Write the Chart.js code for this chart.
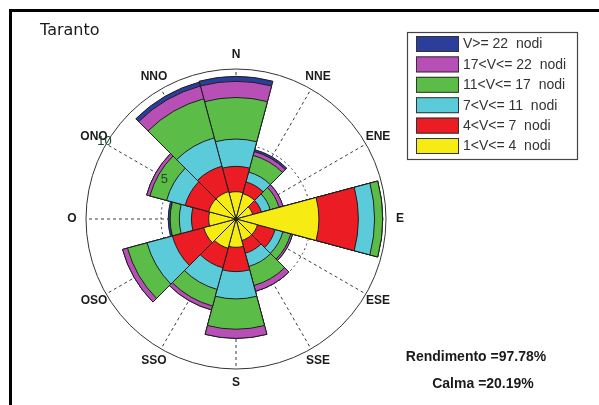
<!DOCTYPE html>
<html>
<head>
<meta charset="utf-8">
<script src="https://cdn.jsdelivr.net/npm/chart.js@4.4.1/dist/chart.umd.min.js"></script>
<style>
  html, body { margin: 0; padding: 0; background: #fff; }
  #wrap { width: 599px; height: 405px; position: relative; }
</style>
</head>
<body>
<div id="wrap"><canvas id="rose"></canvas></div>
<script>
// Wind directions (clockwise from north) and speed classes
const directions = ['N', 'NNE', 'ENE', 'E', 'ESE', 'SSE', 'S', 'SSO', 'OSO', 'O', 'ONO', 'NNO'];
const speedClasses = ['1<V<= 4  nodi', '4<V<= 7  nodi', '7<V<= 11  nodi', '11<V<= 17  nodi', '17<V<= 22  nodi', 'V>= 22  nodi'];
const classColors = ['#f6ec14', '#ec1c24', '#5ccbd9', '#5cbc48', '#b84fb6', '#2c3e9c'];

// Frequency (%) of each speed class per direction
const v1to4   = [1.82, 1.75, 1.15, 5.53, 1.48, 1.48, 1.89, 2.02, 2.23, 1.82, 1.89, 1.89];
const v4to7   = [1.69, 0.81, 0.60, 2.63, 1.22, 0.88, 1.62, 1.35, 2.16, 1.15, 1.62, 1.75];
const v7to11  = [1.82, 0.68, 0.61, 1.08, 0.54, 0.91, 1.82, 1.49, 1.75, 0.81, 1.28, 1.96];
const v11to17 = [2.77, 1.15, 0.61, 0.54, 0.54, 1.32, 2.02, 1.15, 1.35, 0.61, 1.15, 2.70];
const v17to22 = [1.08, 0.27, 0.27, 0.00, 0.13, 0.40, 0.61, 0.27, 0.34, 0.00, 0.23, 0.88];
const v22up   = [0.33, 0.13, 0.00, 0.00, 0.00, 0.00, 0.00, 0.00, 0.00, 0.13, 0.00, 0.27];

const radialTicks = [5, 10];
const stationName = 'Taranto';
const rendimentoText = 'Rendimento =97.78%';
const calmaText = 'Calma =20.19%';

// Stack the classes: each ring reaches the cumulative frequency
const classSeries = [v1to4, v4to7, v7to11, v11to17, v17to22, v22up];
const cumulative = [];
classSeries.forEach((series, k) => {
  cumulative.push(series.map((v, i) => +(v + (k ? cumulative[k - 1][i] : 0)).toFixed(2)));
});

const datasets = classSeries.map((_, k) => ({
  label: speedClasses[k],
  data: cumulative[k],
  backgroundColor: classColors[k],
  borderColor: '#1e1e1e',
  borderWidth: 1
}));

const SECTOR = 360 / directions.length;

// Polar grid: dotted inner ring, solid outer ring and dashed spokes
const roseGrid = {
  id: 'roseGrid',
  beforeDatasetsDraw(chart) {
    const s = chart.scales.r, ctx = chart.ctx;
    const cx = s.xCenter, cy = s.yCenter, R = s.getDistanceFromCenterForValue(radialTicks[radialTicks.length - 1]);
    ctx.save();
    ctx.strokeStyle = '#3a3a3a';
    ctx.lineWidth = 1;
    ctx.setLineDash([3, 3]);
    directions.forEach((d, i) => {
      const a = (i * SECTOR - 90) * Math.PI / 180;
      ctx.beginPath();
      ctx.moveTo(cx, cy);
      ctx.lineTo(cx + R * Math.cos(a), cy + R * Math.sin(a));
      ctx.stroke();
    });
    ctx.setLineDash([2, 3]);
    radialTicks.slice(0, -1).forEach(t => {
      ctx.beginPath();
      ctx.arc(cx, cy, s.getDistanceFromCenterForValue(t), 0, Math.PI * 2);
      ctx.stroke();
    });
    ctx.setLineDash([]);
    ctx.strokeStyle = '#333';
    ctx.beginPath();
    ctx.arc(cx, cy, R, 0, Math.PI * 2);
    ctx.stroke();
    ctx.restore();
  },
  afterDraw(chart) {
    const s = chart.scales.r, ctx = chart.ctx;
    const cx = s.xCenter, cy = s.yCenter, R = s.drawingArea;
    const rMax = radialTicks[radialTicks.length - 1];
    ctx.save();
    // figure frame
    ctx.fillStyle = '#000';
    ctx.fillRect(9, 9, 590, 3);
    ctx.fillRect(9, 9, 3, 396);

    // station name
    ctx.fillStyle = '#1a1a1a';
    ctx.font = '16px "DejaVu Sans"';
    ctx.textAlign = 'left';
    ctx.textBaseline = 'alphabetic';
    ctx.fillText(stationName, 40, 35);

    // direction labels
    ctx.font = 'bold 12px "Liberation Sans"';
    ctx.textAlign = 'center';
    ctx.textBaseline = 'middle';
    directions.forEach((d, i) => {
      const a = (i * SECTOR - 90) * Math.PI / 180;
      const rl = R + 14;
      ctx.fillText(d, cx + rl * Math.cos(a), cy + rl * Math.sin(a));
    });

    // radial tick labels along the ONO spoke
    ctx.font = '13px "Liberation Sans"';
    ctx.fillStyle = '#1f4a26';
    const la = (10 * SECTOR - 90) * Math.PI / 180;
    radialTicks.forEach(t => {
      const outer = t === rMax;
      const rr = s.getDistanceFromCenterForValue(t) + (outer ? 3 : 9);
      ctx.fillText(String(t), cx + rr * Math.cos(la) + 1, cy + rr * Math.sin(la) + (outer ? -1 : 2));
    });

    // legend box
    const bx = 407, by = 32, bw = 170, bh = 127;
    ctx.fillStyle = '#fff';
    ctx.fillRect(bx, by, bw, bh);
    ctx.strokeStyle = '#444';
    ctx.lineWidth = 1.2;
    ctx.strokeRect(bx + 0.5, by + 0.5, bw, bh);
    ctx.font = '14px "Liberation Sans"';
    ctx.textAlign = 'left';
    ctx.textBaseline = 'middle';
    for (let j = 0; j < speedClasses.length; j++) {
      const k = speedClasses.length - 1 - j;
      const top = by + 4 + j * 20.4;
      ctx.fillStyle = classColors[k];
      ctx.fillRect(416, top, 43, 16);
      ctx.strokeStyle = '#333';
      ctx.lineWidth = 1;
      ctx.strokeRect(416.5, top + 0.5, 42, 15);
      ctx.fillStyle = '#333';
      ctx.fillText(speedClasses[k], 463, top + 8.5);
    }

    // summary
    ctx.fillStyle = '#1a1a1a';
    ctx.font = 'bold 14px "Liberation Sans"';
    ctx.textAlign = 'center';
    ctx.textBaseline = 'alphabetic';
    ctx.fillText(rendimentoText, 476, 361);
    ctx.fillText(calmaText, 483, 388);
    ctx.restore();
  }
};

new Chart(document.getElementById('rose'), {
  type: 'polarArea',
  data: { labels: directions, datasets },
  options: {
    responsive: true,
    maintainAspectRatio: false,
    animation: false,
    events: [],
    layout: { padding: { left: 86, right: 213, top: 69, bottom: 36 } },
    plugins: { legend: { display: false }, tooltip: { enabled: false }, title: { display: false } },
    scales: {
      r: {
        min: 0,
        max: radialTicks[radialTicks.length - 1],
        startAngle: -SECTOR / 2,
        ticks: { display: false, stepSize: 5 },
        grid: { display: false },
        angleLines: { display: false },
        pointLabels: { display: false }
      }
    }
  },
  plugins: [roseGrid]
});
</script>
</body>
</html>
